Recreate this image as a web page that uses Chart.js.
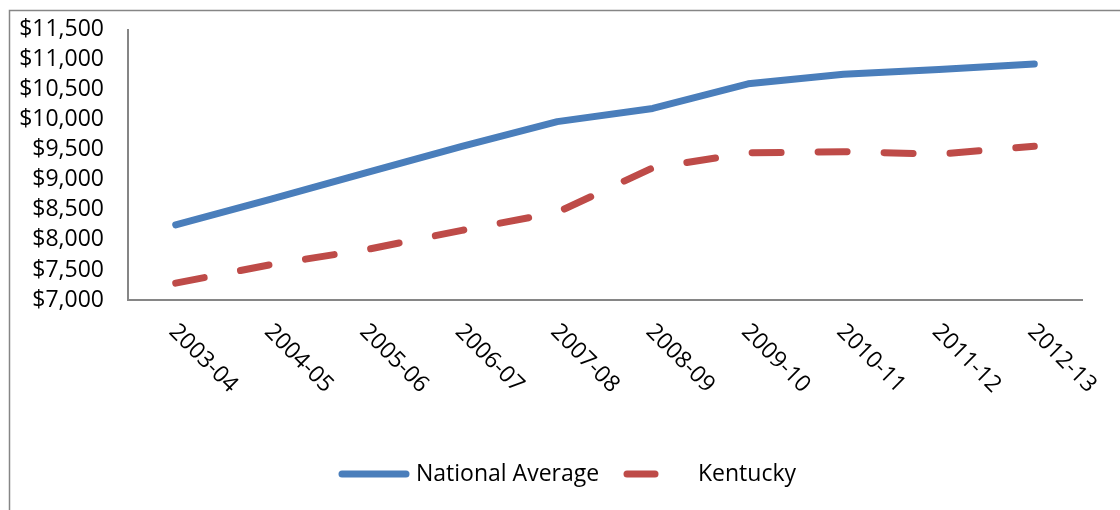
<!DOCTYPE html>
<html>
<head>
<meta charset="utf-8">
<script src="https://cdn.jsdelivr.net/npm/chart.js@4"></script>
<style>
  html, body { margin: 0; padding: 0; background: #fff; }
  #wrap { width: 1120px; height: 510px; position: relative; }
</style>
</head>
<body>
<div id="wrap"><canvas id="chart"></canvas></div>
<script>
// data
const years = ['2003-04', '2004-05', '2005-06', '2006-07', '2007-08', '2008-09', '2009-10', '2010-11', '2011-12', '2012-13'];
const nationalAvg = [8250, 8680, 9120, 9560, 9970, 10190, 10600, 10760, 10840, 10930];
const kentucky = [7280, 7590, 7840, 8160, 8460, 9200, 9450, 9470, 9430, 9560];
const yMin = 7000, yMax = 11500, yStep = 500;

const FONT = '"Open Sans", "Liberation Sans", sans-serif';
const BLUE = '#4A7EBB', RED = '#BE4B48', GREY = '#868686';

const money = v => '$' + Number(v).toLocaleString('en-US');

// outer frame, rotated x labels and legend
const extras = {
  id: 'extras',
  beforeDraw(chart) {
    const ctx = chart.ctx;
    ctx.save();
    ctx.strokeStyle = GREY;
    ctx.lineWidth = 1.5;
    ctx.strokeRect(9.5, 10.5, 1130, 520);
    ctx.restore();
  },
  afterDraw(chart) {
    const ctx = chart.ctx;
    const x = chart.scales.x;
    ctx.save();
    ctx.fillStyle = '#000';
    ctx.font = '23px ' + FONT;
    ctx.textAlign = 'left';
    ctx.textBaseline = 'middle';
    years.forEach((lab, i) => {
      const px = x.getPixelForTick(i);
      ctx.save();
      ctx.translate(px - 3, x.bottom + 28);
      ctx.rotate(Math.PI / 4);
      ctx.fillText(lab, 0, 0);
      ctx.restore();
    });

    // legend
    const ly = 474;
    const items = [
      { ds: chart.data.datasets[0], x0: 342, x1: 406, tx: 416 },
      { ds: chart.data.datasets[1], x0: 627, x1: 655, tx: 698 }
    ];
    items.forEach(it => {
      ctx.beginPath();
      ctx.strokeStyle = it.ds.borderColor;
      ctx.lineWidth = 7;
      ctx.lineCap = 'round';
      ctx.moveTo(it.x0, ly);
      ctx.lineTo(it.x1, ly);
      ctx.stroke();
      ctx.fillStyle = '#000';
      ctx.textBaseline = 'middle';
      ctx.fillText(it.ds.label, it.tx, ly);
    });
    ctx.restore();
  }
};

new Chart(document.getElementById('chart'), {
  type: 'line',
  data: {
    labels: years,
    datasets: [
      { label: 'National Average', data: nationalAvg, borderColor: BLUE, backgroundColor: BLUE,
        borderWidth: 7, borderCapStyle: 'round', borderJoinStyle: 'round', pointRadius: 0, tension: 0 },
      { label: 'Kentucky', data: kentucky, borderColor: RED, backgroundColor: RED,
        borderWidth: 7, borderDash: [29, 37], borderCapStyle: 'round', borderJoinStyle: 'round', pointRadius: 0, tension: 0 }
    ]
  },
  options: {
    responsive: true,
    maintainAspectRatio: false,
    animation: false,
    layout: { padding: { left: 10, right: 38, top: 24, bottom: 210 } },
    plugins: { legend: { display: false }, tooltip: { enabled: false } },
    scales: {
      x: {
        offset: true,
        grid: { display: false, drawTicks: false },
        border: { display: true, color: GREY, width: 2 },
        ticks: { display: false }
      },
      y: {
        min: yMin, max: yMax,
        grid: { display: false, drawTicks: false },
        border: { display: true, color: GREY, width: 2 },
        afterFit(scale) { scale.width = 118; },
        ticks: {
          stepSize: yStep,
          autoSkip: false,
          padding: 24,
          color: '#000',
          font: { family: FONT, size: 23, lineHeight: 0.5 },
          callback: v => money(v)
        }
      }
    }
  },
  plugins: [extras]
});
</script>
</body>
</html>
